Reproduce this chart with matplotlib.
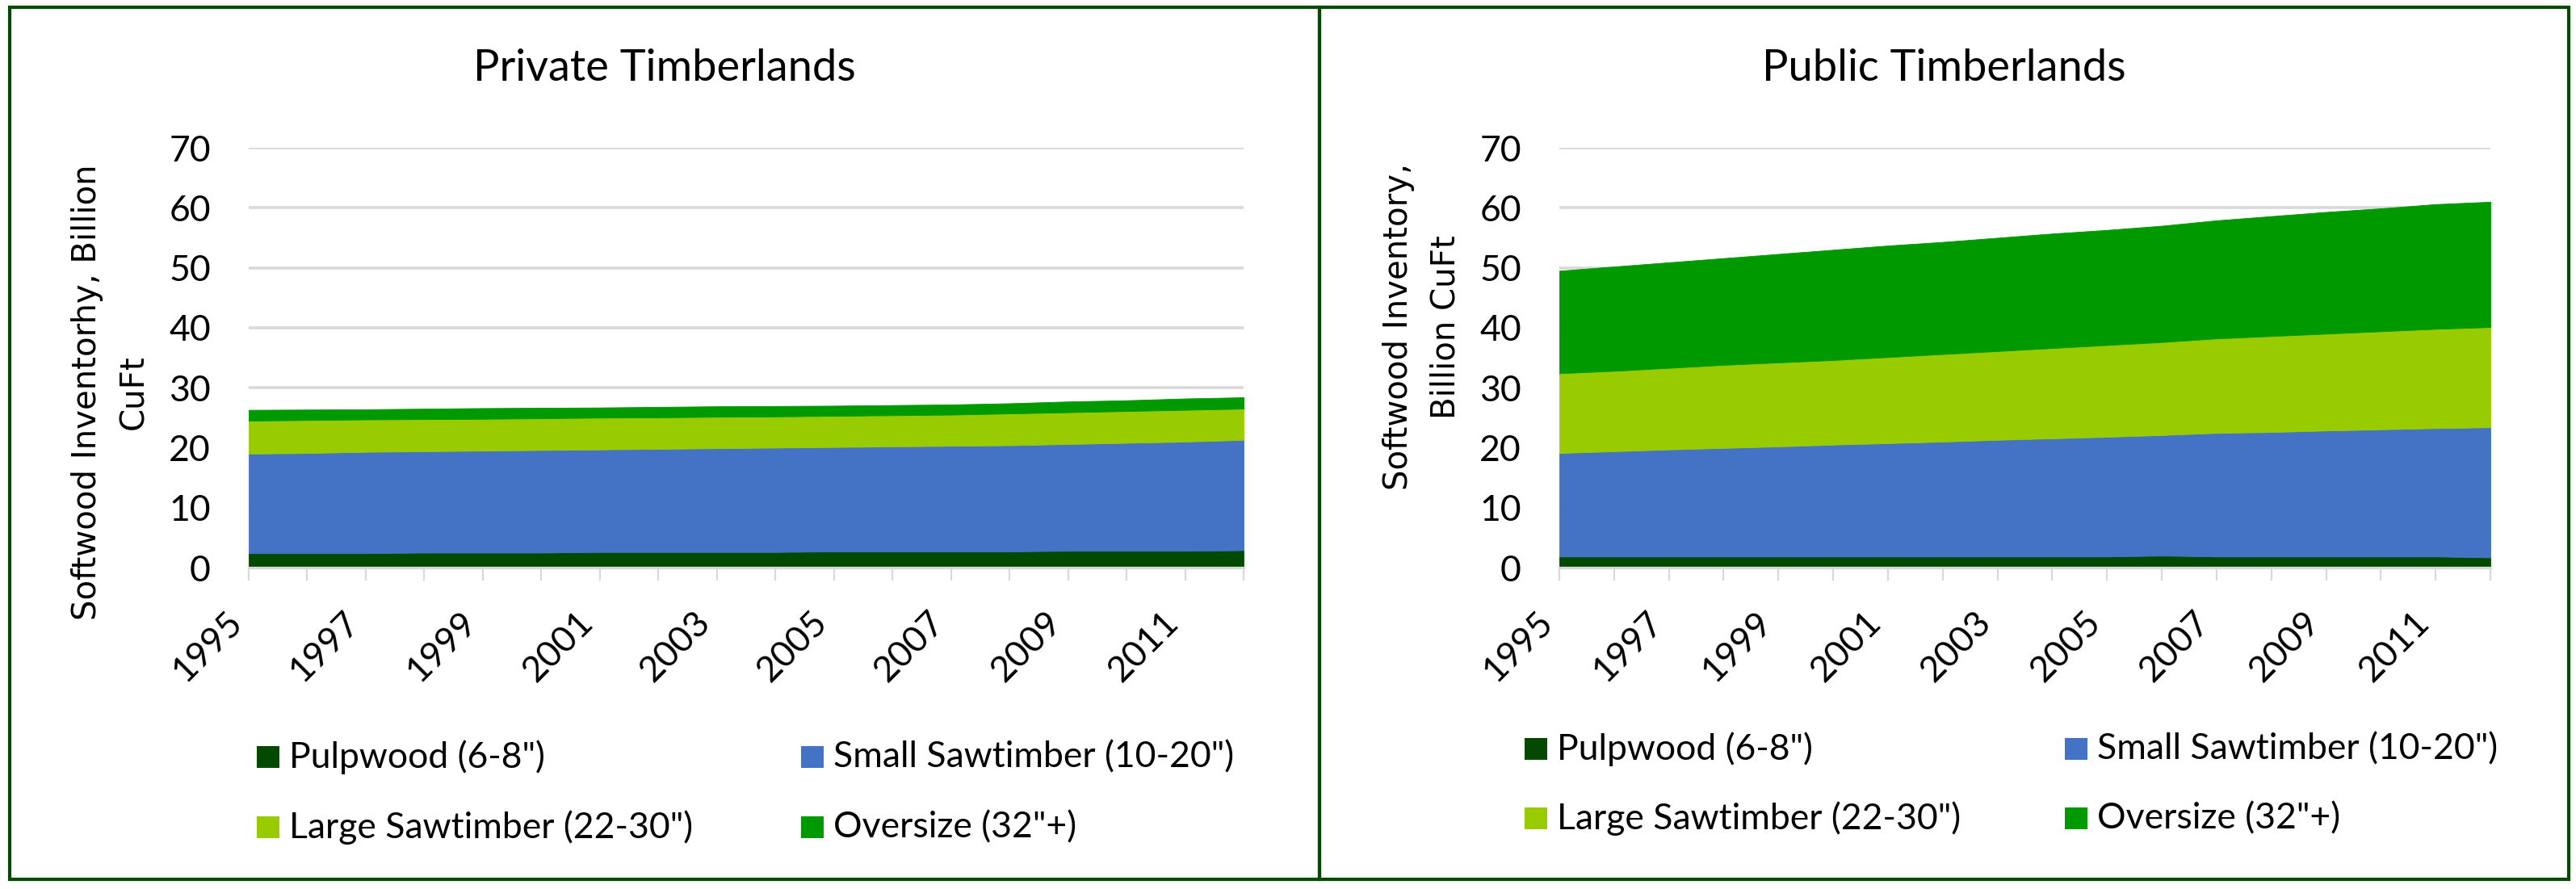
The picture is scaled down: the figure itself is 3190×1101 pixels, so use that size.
import matplotlib
matplotlib.use('Agg')
import matplotlib.pyplot as plt
from matplotlib.patches import Rectangle

# Inventory by size class, billion cubic feet, 1995-2012
years = list(range(1995, 2013))
tick_years = list(range(1995, 2012, 2))

priv_pulp = [2.4, 2.4, 2.4, 2.5, 2.5, 2.5, 2.6, 2.6, 2.6, 2.6, 2.7, 2.7, 2.7, 2.7, 2.8, 2.8, 2.8, 2.9]
priv_small = [16.6, 16.7, 16.9, 16.9, 17.0, 17.1, 17.1, 17.2, 17.3, 17.4, 17.4, 17.5, 17.6, 17.7, 17.8, 18.0, 18.2, 18.4]
priv_large = [5.5, 5.5, 5.4, 5.35, 5.3, 5.3, 5.3, 5.25, 5.25, 5.2, 5.2, 5.2, 5.2, 5.3, 5.3, 5.3, 5.3, 5.2]
priv_over = [1.8, 1.75, 1.7, 1.75, 1.8, 1.75, 1.7, 1.75, 1.75, 1.75, 1.7, 1.7, 1.7, 1.7, 1.8, 1.8, 1.9, 1.9]

pub_pulp = [1.85, 1.85, 1.85, 1.85, 1.85, 1.85, 1.85, 1.85, 1.85, 1.85, 1.85, 2.0, 1.85, 1.85, 1.85, 1.85, 1.85, 1.7]
pub_small = [17.25, 17.55, 17.85, 18.1, 18.35, 18.65, 18.9, 19.15, 19.45, 19.7, 19.95, 20.1, 20.6, 20.75, 21.0, 21.2, 21.4, 21.7]
pub_large = [13.3, 13.4, 13.6, 13.85, 14.0, 14.1, 14.35, 14.6, 14.8, 15.05, 15.3, 15.5, 15.75, 16.0, 16.15, 16.35, 16.55, 16.7]
pub_over = [17.1, 17.4, 17.6, 17.8, 18.1, 18.4, 18.6, 18.7, 18.9, 19.1, 19.2, 19.4, 19.7, 20.0, 20.3, 20.5, 20.8, 20.9]

labels = ['Pulpwood (6-8")', 'Small Sawtimber (10-20")', 'Large Sawtimber (22-30")', 'Oversize (32"+)']
colors = ['#034a00', '#4472c4', '#99cc00', '#009900']

W, H = 3190, 1101
fig = plt.figure(figsize=(W / 100, H / 100), dpi=100)
fam = ['Lato', 'DejaVu Sans']
grid_c = '#d9d9d9'
border_c = '#004b00'


def px(x, y):
    # pixel (from top-left) to figure fraction
    return x / W, 1 - y / H


def make_axes(left, right, series, title, title_x, ylabel, ylab_x, ylab_y, leg_x, leg_col2, leg_rows):
    x0, y0 = px(left, 703)
    x1, y1 = px(right, 183)
    ax = fig.add_axes([x0, y0, x1 - x0, y1 - y0])
    ax.stackplot(years, *series, colors=colors, linewidth=0.6, edgecolor='face')
    ax.set_xlim(1995, 2012)
    ax.set_ylim(0, 70)
    ax.set_yticks(range(0, 80, 10))
    ax.set_xticks(years, minor=False)
    ax.set_xticklabels([str(y) if y in tick_years else '' for y in years])
    ax.yaxis.grid(True, color=grid_c, lw=2.6)
    ax.set_axisbelow(True)
    for s in ['left', 'right', 'top']:
        ax.spines[s].set_visible(False)
    ax.spines['bottom'].set_color(grid_c)
    ax.spines['bottom'].set_linewidth(2.4)
    ax.spines['bottom'].set_zorder(5)
    ax.tick_params(axis='y', length=0, pad=34, labelsize=32)
    ax.tick_params(axis='x', length=11.5, width=1.6, color=grid_c, pad=22, labelsize=32)
    for lab in ax.get_yticklabels() + ax.get_xticklabels():
        lab.set_family(fam)
    for lab in ax.get_xticklabels():
        lab.set_rotation(45)
        lab.set_ha('right')
        lab.set_va('top')

    tx, ty = px(title_x, 84)
    fig.text(tx, ty, title, ha='center', va='center', fontsize=39, family=fam)
    lx, ly = px(ylab_x, ylab_y)
    fig.text(lx, ly, ylabel, rotation=90, ha='center', va='center', fontsize=29,
             family='DejaVu Sans', linespacing=1.6, multialignment='center')

    # legend, two columns
    spots = [(leg_x, leg_rows[0]), (leg_col2, leg_rows[0]), (leg_x, leg_rows[1]), (leg_col2, leg_rows[1])]
    for (sx, sy), lab, c in zip(spots, labels, colors):
        rx, ry = px(sx, sy + 13)
        fig.add_artist(Rectangle((rx, ry), 28 / W, 27 / H, transform=fig.transFigure,
                                 facecolor=c, edgecolor='none'))
        t_x, t_y = px(sx + 40, sy)
        fig.text(t_x, t_y, lab, ha='left', va='center', fontsize=32, family=fam)
    return ax


make_axes(308, 1540, [priv_pulp, priv_small, priv_large, priv_over], 'Private Timberlands', 823,
          'Softwood Inventorhy, Billion\nCuFt', 137, 486, 318, 992, (938, 1025))
make_axes(1931, 3084, [pub_pulp, pub_small, pub_large, pub_over], 'Public Timberlands', 2407,
          'Softwood Inventory,\nBillion CuFt', 1761, 405, 1888, 2557, (928, 1014))

# panel borders
for (a, b) in [(12, 1634), (1634, 3181)]:
    rx, ry = px(a, 1089)
    fig.add_artist(Rectangle((rx, ry), (b - a) / W, 1080 / H, transform=fig.transFigure,
                             facecolor='none', edgecolor=border_c, linewidth=3))

fig.savefig('out.png', dpi=100, facecolor='white')
